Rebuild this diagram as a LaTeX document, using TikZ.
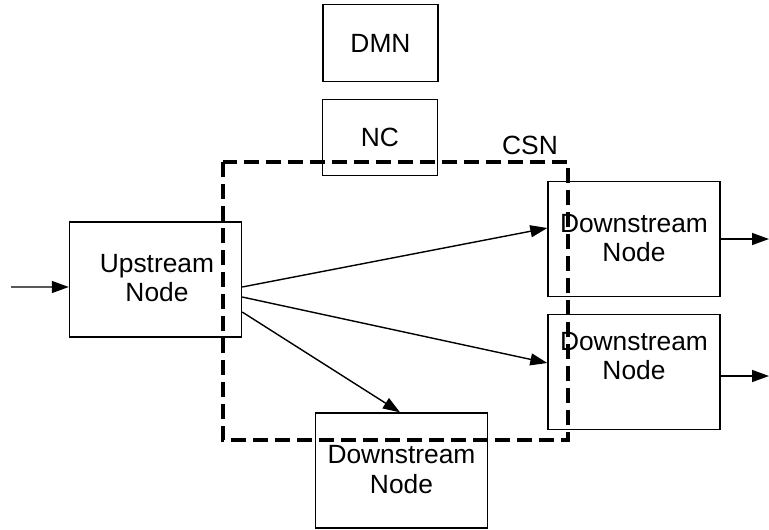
\documentclass[tikz,border=0pt]{standalone}
\usepackage{fontspec}
\setmainfont{Liberation Sans}
\usetikzlibrary{arrows.meta, positioning, calc}

\begin{document}
\begin{tikzpicture}[x=0.02cm, y=-0.02cm, >={Triangle[length=0.34cm,width=0.24cm]},
  box/.style={draw, line width=0.8pt, minimum width=3.44cm, minimum height=2.3cm, align=center, font=\fontsize{15}{18}\selectfont},
  smallbox/.style={draw, line width=0.8pt, minimum width=2.3cm, minimum height=1.53cm, font=\fontsize{15}{18}\selectfont},
  txt/.style={align=center, inner sep=0pt, font=\fontsize{15}{17}\selectfont},
  link/.style={->, line width=0.8pt},
  csn/.style={line width=1.8pt, dash pattern=on 0.3cm off 0.14cm}]
\useasboundingbox (0,0) rectangle (769,529);

% define the boxes
  \node[smallbox] (dmn) at (380.5,43) {DMN};
  \node[smallbox] (nc)  at (380,137.5) {NC};
  \node[box] (up) at (155.5,279.5) {};
  \node[txt] (upt) at (157,278) {Upstream\\Node};
  \node[box] (d1) at (634,239) {};
  \node[txt] (d1t) at (634,238) {Downstream\\Node};
  \node[box] (d2) at (634,372) {};
  \node[txt] (d2t) at (634,356) {Downstream\\Node};
  \node[box] (d3) at (401.5,470.5) {};
  \node[txt] (d3t) at (401.5,469.5) {Downstream\\Node};

% free ends
  \coordinate (in)   at (11,287);
  \coordinate (out1) at (769,239);
  \coordinate (out2) at (769,376);

% define the links
  \draw[link] (in) -- ($(up.west)+(0,7.5)$);
  \draw[link] ($(up.east)+(0,7.5)$) -- ($(d1.west)+(0,-11)$);
  \draw[link] ($(up.east)+(0,17.5)$) -- ($(d2.west)+(0,-9)$);
  \draw[link] ($(up.east)+(0,32.5)$) -- ($(d3.north)+(-1.5,0)$);
  \draw[link] (d1.east) -- (out1);
  \draw[link] ($(d2.east)+(0,4)$) -- (out2);

% the CSN boundary
  \draw[csn] (223,162) rectangle (568,440);
  \node[txt] (csnl) at (530,145) {CSN};
\end{tikzpicture}
\end{document}
